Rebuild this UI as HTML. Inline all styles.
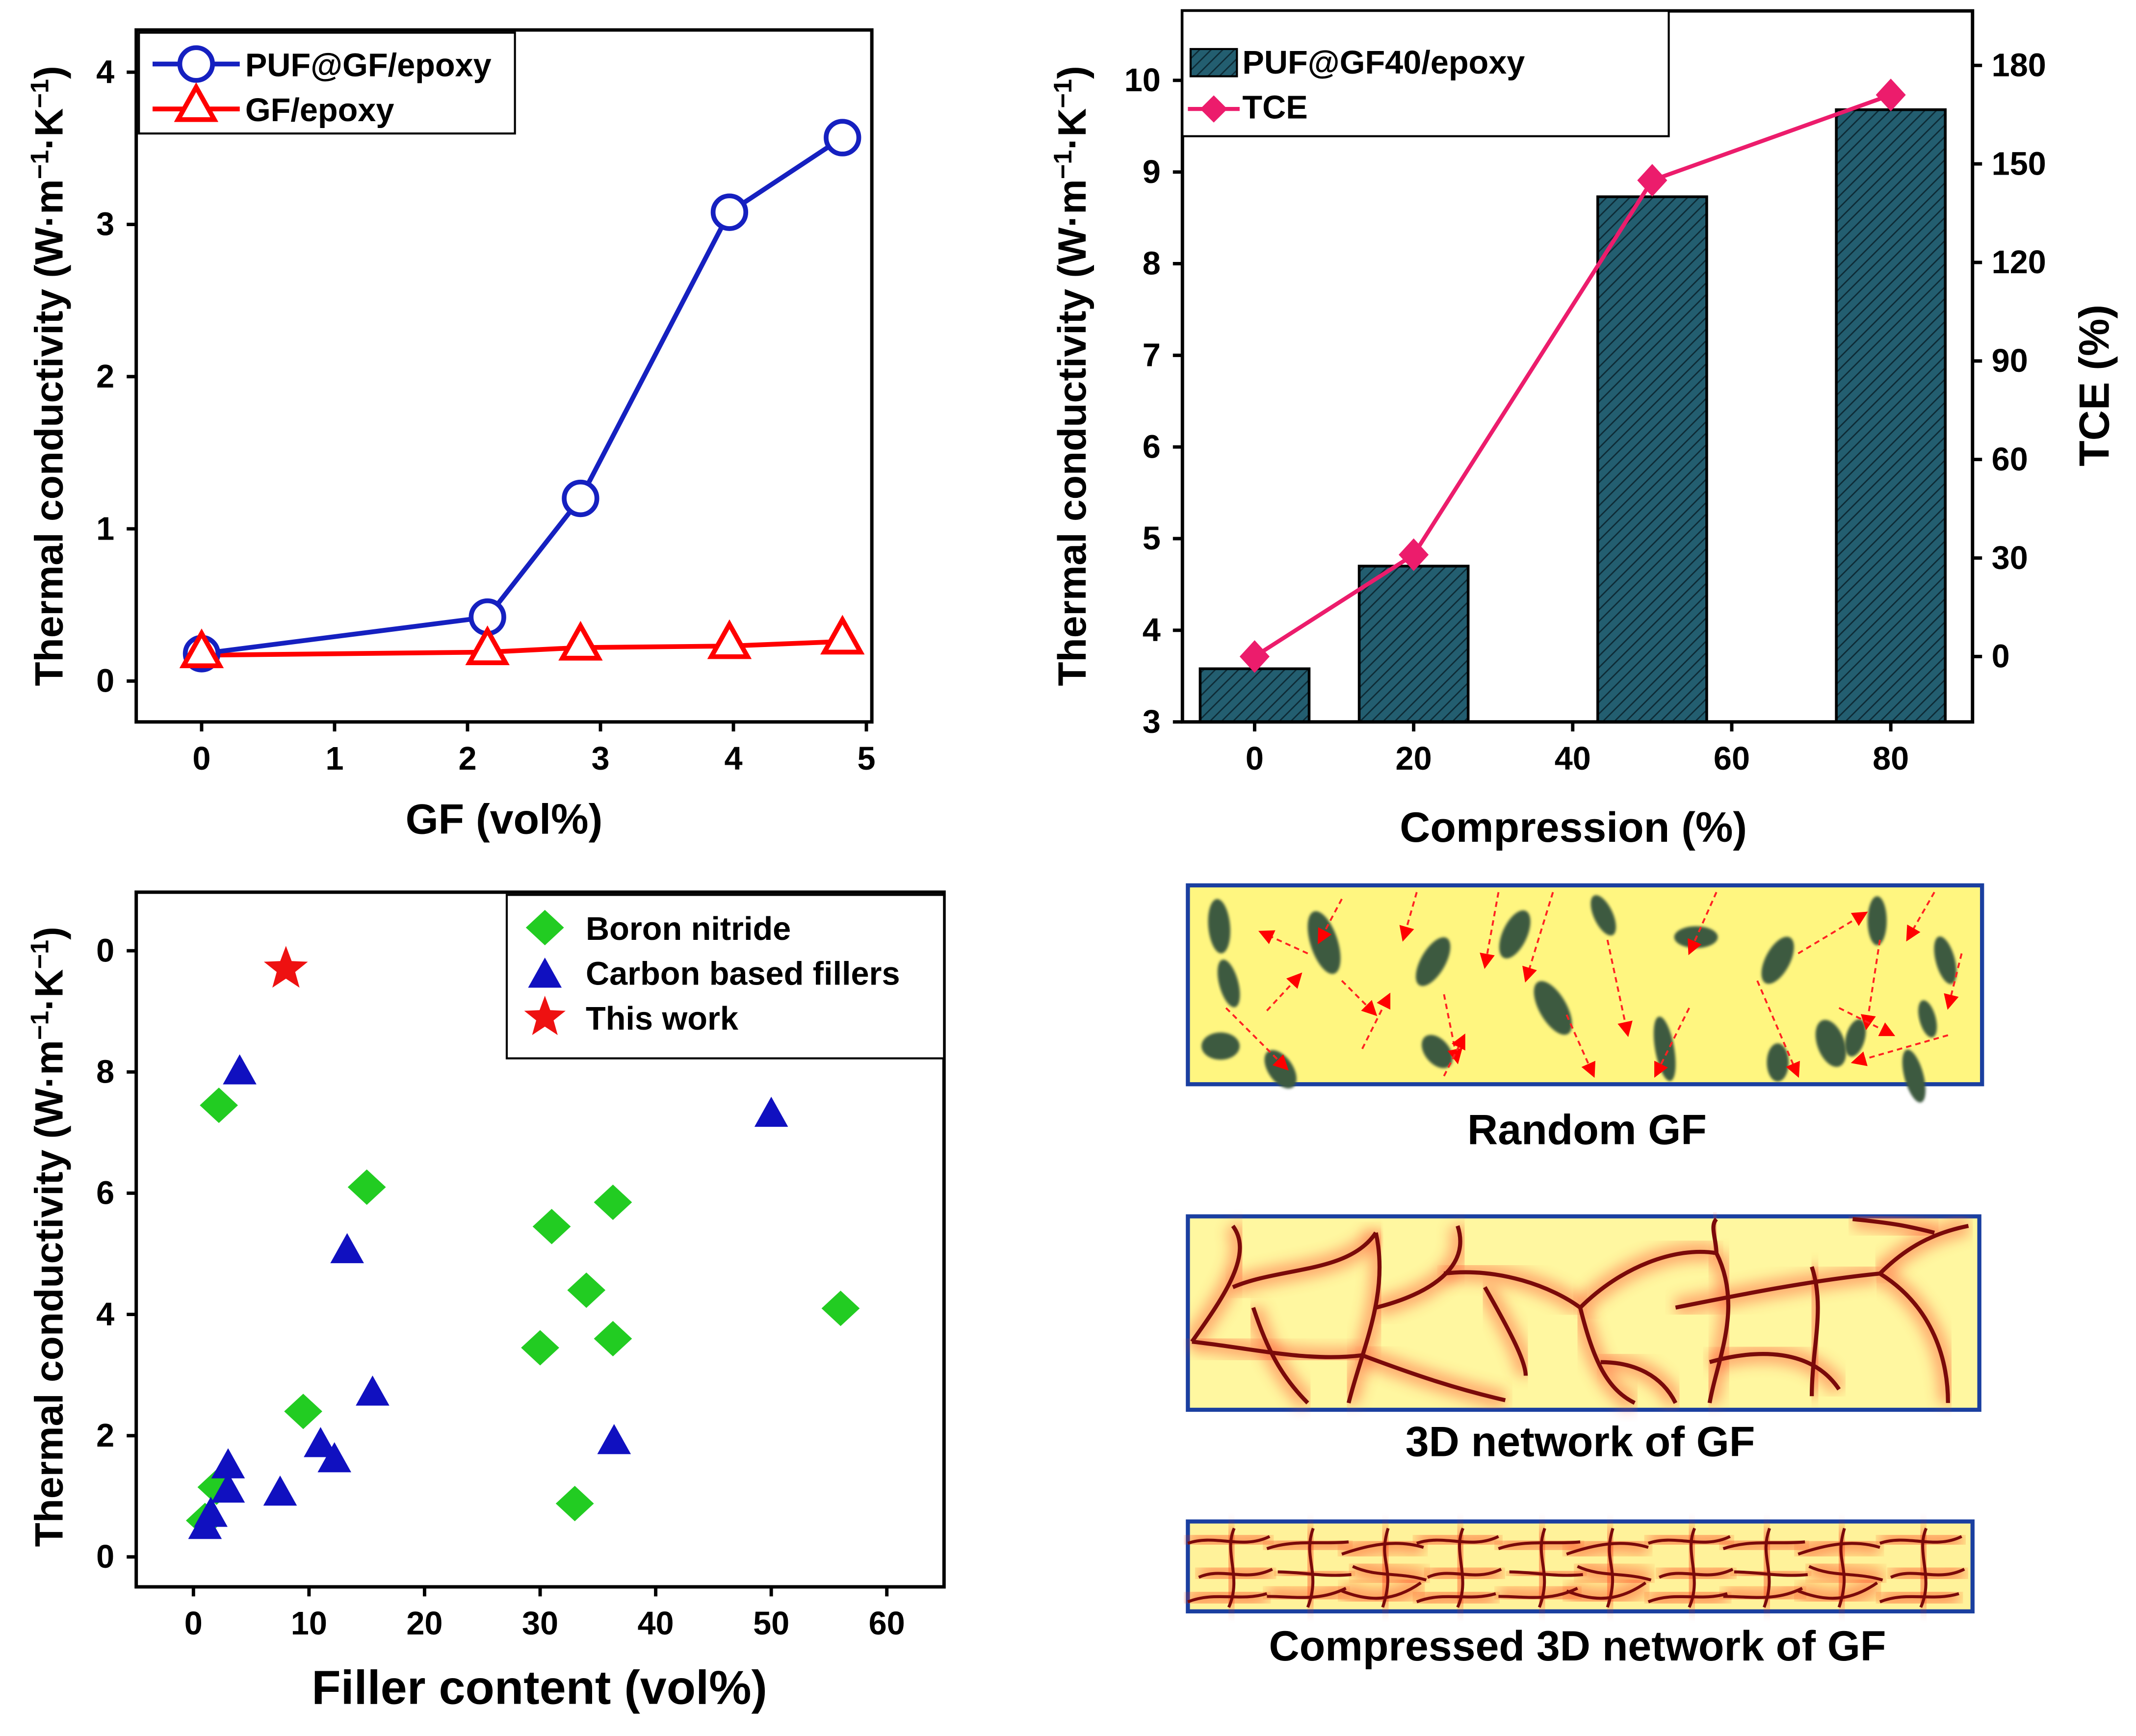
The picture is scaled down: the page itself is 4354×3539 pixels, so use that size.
<!DOCTYPE html>
<html><head><meta charset="utf-8"><style>
html,body{margin:0;padding:0;background:#fff;}
svg{display:block;font-family:"Liberation Sans",Arial,sans-serif;font-weight:bold;}
</style></head><body>
<svg id="fig" width="4354" height="3539" viewBox="0 0 1568 1274.5" xmlns="http://www.w3.org/2000/svg">
<defs>
<pattern id="hatch" width="6" height="6" patternUnits="userSpaceOnUse" patternTransform="rotate(45)">
<rect width="6" height="6" fill="#235e70"/><line x1="0" y1="0" x2="0" y2="6" stroke="#0d2a35" stroke-width="2"/>
</pattern>
<filter id="glow" x="-5%" y="-20%" width="110%" height="140%"><feGaussianBlur stdDeviation="5"/></filter>
<filter id="blur1"><feGaussianBlur stdDeviation="1"/></filter>
<marker id="arr" markerWidth="8" markerHeight="8" refX="7" refY="4" orient="auto"><path d="M0,0 L8,4 L0,8 z" fill="#f00"/></marker>
</defs>
<g id="pa"></g>
<g id="pb"></g>
<g id="pc"></g>
<g id="pd"></g>
</svg>
<script>
// ---- Panel A data
const aX = [0, 2.15, 2.85, 3.97, 4.82];
const aPUF = [0.18, 0.42, 1.2, 3.08, 3.57];
const aGF = [0.17, 0.19, 0.22, 0.23, 0.26];
const aXTicks = [0,1,2,3,4,5];
const aYTicks = [0,1,2,3,4];
// ---- Panel B data
const bComp = [0, 20, 50, 80];
const bTC = [3.58, 4.7, 8.73, 9.68];
const bTCE = [0, 31, 145, 171];
const bXTicks = [0,20,40,60,80];
const bYTicks = [3,4,5,6,7,8,9,10];
const bY2Ticks = [0,30,60,90,120,150,180];
// ---- Panel C data
const cBNx = [1, 2, 2.2, 9.5, 15, 30, 31, 33, 34, 36.3, 36.3, 56];
const cBNy = [0.6, 1.15, 7.45, 2.4, 6.1, 3.45, 5.45, 0.88, 4.4, 3.6, 5.85, 4.1];
const cCx = [1, 1.5, 3, 3, 4, 7.5, 11, 12.2, 13.3, 15.5, 36.4, 50];
const cCy = [0.5, 0.7, 1.5, 1.1, 8.0, 1.05, 1.85, 1.6, 5.05, 2.7, 1.9, 7.3];
const cStarX = [8];
const cStarY = [9.7];
const cXTicks = [0,10,20,30,40,50,60];
const cYTicks = [0,2,4,6,8,10];
const cYLabels = ["0","2","4","6","8","0"];

const NS="http://www.w3.org/2000/svg";
function mk(parent,tag,attrs,name,text){
  const e=document.createElementNS(NS,tag);
  for(const k in attrs)e.setAttribute(k,attrs[k]);
  
  
  if(text!==undefined)e.textContent=text;
  parent.appendChild(e);return e;
}
function lin(d0,d1,r0,r1){return v=>r0+(v-d0)*(r1-r0)/(d1-d0);}
function box(g,x0,y0,x1,y1,name){mk(g,'rect',{x:x0,y:y0,width:x1-x0,height:y1-y0,fill:'none',stroke:'#000','stroke-width':2.5},name);}
function xticks(g,ticks,sx,yb,labels,fs,name){
  ticks.forEach((t,i)=>{
    mk(g,'line',{x1:sx(t),x2:sx(t),y1:yb,y2:yb+7,stroke:'#000','stroke-width':2.5},name+'-tick');
    mk(g,'text',{x:sx(t),y:yb+35,'font-size':fs,'text-anchor':'middle'},name+'-label',labels?labels[i]:t);
  });
}
function yticks(g,ticks,sy,xl,labels,fs,name,right){
  ticks.forEach((t,i)=>{
    mk(g,'line',{x1:xl,x2:right?xl+7:xl-7,y1:sy(t),y2:sy(t),stroke:'#000','stroke-width':2.5},name+'-tick');
    mk(g,'text',{x:right?xl+14:xl-16,y:sy(t)+8,'font-size':fs,'text-anchor':right?'start':'end'},name+'-label',labels?labels[i]:t);
  });
}
function vlabel(g,x,y,txt,fs,name){
  const t=mk(g,'text',{x:0,y:0,'font-size':fs,'text-anchor':'middle',transform:`translate(${x},${y}) rotate(-90)`},name);
  t.innerHTML=txt;return t;
}
const TCL='Thermal conductivity (W·m<tspan baseline-shift="super" font-size="0.65em">−1</tspan>·K<tspan baseline-shift="super" font-size="0.65em">−1</tspan>)';
function tri(x,y,s){return `M${x},${y-s} L${x+s*0.95},${y+s*0.7} L${x-s*0.95},${y+s*0.7} Z`;}
function star(x,y,r){let p='';for(let i=0;i<10;i++){const a=-Math.PI/2+i*Math.PI/5;const rr=i%2?r*0.42:r;p+=(i?'L':'M')+(x+rr*Math.cos(a)).toFixed(1)+','+(y+rr*Math.sin(a)).toFixed(1);}return p+'Z';}

// ===== Panel A
(function(){
const g=document.getElementById('pa');
const sx=lin(0,5,148,636), sy=lin(0,4,500,53);
box(g,100,22,640,530,'panel-a-axes-frame');
xticks(g,aXTicks,sx,530,null,24,'a-x-tick');
yticks(g,aYTicks,sy,100,null,24,'a-y-tick');
mk(g,'text',{x:370,y:612,'font-size':31,'text-anchor':'middle'},'a-x-axis-title','GF (vol%)');
vlabel(g,46,276,TCL,29,'a-y-axis-title');
mk(g,'polyline',{points:aX.map((x,i)=>sx(x)+','+sy(aGF[i])).join(' '),fill:'none',stroke:'#f00','stroke-width':3.5},'gf-epoxy-line');
mk(g,'polyline',{points:aX.map((x,i)=>sx(x)+','+sy(aPUF[i])).join(' '),fill:'none',stroke:'#1520c0','stroke-width':3.5},'puf-gf-epoxy-line');
aX.forEach((x,i)=>{
  mk(g,'circle',{cx:sx(x),cy:sy(aPUF[i]),r:12,fill:'#fff',stroke:'#1520c0','stroke-width':3.5},'puf-point');
  mk(g,'path',{d:tri(sx(x),sy(aGF[i])-2,14),fill:'#fff',stroke:'#f00','stroke-width':3.5},'gf-point');
});
mk(g,'rect',{x:102,y:24,width:276,height:74,fill:'#fff',stroke:'#000','stroke-width':1.5},'a-legend-box');
mk(g,'line',{x1:112,x2:176,y1:47,y2:47,stroke:'#1520c0','stroke-width':3.5},'legend-puf-line');
mk(g,'circle',{cx:144,cy:47,r:12,fill:'#fff',stroke:'#1520c0','stroke-width':3.5},'legend-puf-marker');
mk(g,'text',{x:180,y:56,'font-size':24},'legend-puf-label','PUF@GF/epoxy');
mk(g,'line',{x1:112,x2:176,y1:80,y2:80,stroke:'#f00','stroke-width':3.5},'legend-gf-line');
mk(g,'path',{d:tri(144,78,14),fill:'#fff',stroke:'#f00','stroke-width':3.5},'legend-gf-marker');
mk(g,'text',{x:180,y:89,'font-size':24},'legend-gf-label','GF/epoxy');
})();

// ===== Panel B
(function(){
const g=document.getElementById('pb');
const sx=lin(0,80,921,1388), sy=lin(3,10,530,59), sy2=lin(0,180,482,48);
bComp.forEach((c,i)=>{
  mk(g,'rect',{x:sx(c)-40,y:sy(bTC[i]),width:80,height:530-sy(bTC[i]),fill:'url(#hatch)',stroke:'#000','stroke-width':2},'bar-compression-'+c);
});
box(g,868,8,1448,530,'panel-b-axes-frame');
xticks(g,bXTicks,sx,530,null,24,'b-x-tick');
yticks(g,bYTicks,sy,868,null,24,'b-y-tick');
yticks(g,bY2Ticks,sy2,1448,null,24,'b-y2-tick',true);
mk(g,'text',{x:1155,y:618,'font-size':31,'text-anchor':'middle'},'b-x-axis-title','Compression (%)');
vlabel(g,797,276,TCL,29,'b-y-axis-title');
vlabel(g,1548,283,'TCE (%)',31,'b-y2-axis-title');
mk(g,'polyline',{points:bComp.map((c,i)=>sx(c)+','+sy2(bTCE[i])).join(' '),fill:'none',stroke:'#ec1c6c','stroke-width':3},'tce-line');
bComp.forEach((c,i)=>{const x=sx(c),y=sy2(bTCE[i]);
  mk(g,'path',{d:`M${x},${y-12}L${x+11},${y}L${x},${y+12}L${x-11},${y}Z`,fill:'#ec1c6c'},'tce-point');});
mk(g,'rect',{x:868,y:8,width:357,height:92,fill:'#fff',stroke:'#000','stroke-width':1.5},'b-legend-box');
mk(g,'rect',{x:874,y:36,width:34,height:20,fill:'url(#hatch)',stroke:'#000','stroke-width':1.5},'legend-bar-swatch');
mk(g,'text',{x:912,y:54,'font-size':24},'legend-bar-label','PUF@GF40/epoxy');
mk(g,'line',{x1:872,x2:910,y1:80,y2:80,stroke:'#ec1c6c','stroke-width':3},'legend-tce-line');
mk(g,'path',{d:'M891,70L901,80L891,90L881,80Z',fill:'#ec1c6c'},'legend-tce-marker');
mk(g,'text',{x:912,y:87,'font-size':24},'legend-tce-label','TCE');
})();

// ===== Panel C
(function(){
const g=document.getElementById('pc');
const sx=lin(0,60,142,651), sy=lin(0,10,1143,698);
box(g,100,655,693,1165,'panel-c-axes-frame');
xticks(g,cXTicks,sx,1165,null,24,'c-x-tick');
yticks(g,cYTicks,sy,100,cYLabels,24,'c-y-tick');
mk(g,'text',{x:396,y:1251,'font-size':35,'text-anchor':'middle'},'c-x-axis-title','Filler content (vol%)');
vlabel(g,46,908,TCL,29,'c-y-axis-title');
cBNx.forEach((x,i)=>{const X=sx(x),Y=sy(cBNy[i]);
  mk(g,'path',{d:`M${X},${Y-13}L${X+14},${Y}L${X},${Y+13}L${X-14},${Y}Z`,fill:'#22cc22'},'boron-nitride-point');});
cCx.forEach((x,i)=>{mk(g,'path',{d:tri(sx(x),sy(cCy[i]),13),fill:'#1010c0'},'carbon-filler-point');});
cStarX.forEach((x,i)=>{mk(g,'path',{d:star(sx(x),sy(cStarY[i]),17),fill:'#ee1111'},'this-work-point');});
mk(g,'rect',{x:372,y:657,width:321,height:120,fill:'#fff',stroke:'#000','stroke-width':1.5},'c-legend-box');
mk(g,'path',{d:'M400,668L414,681L400,694L386,681Z',fill:'#22cc22'},'legend-bn-marker');
mk(g,'text',{x:430,y:690,'font-size':24},'legend-bn-label','Boron nitride');
mk(g,'path',{d:tri(400,716,13),fill:'#1010c0'},'legend-carbon-marker');
mk(g,'text',{x:430,y:723,'font-size':24},'legend-carbon-label','Carbon based fillers');
mk(g,'path',{d:star(400,747,16),fill:'#ee1111'},'legend-star-marker');
mk(g,'text',{x:430,y:756,'font-size':24},'legend-thiswork-label','This work');
})();

// ===== Panel D schematic
(function(){
const g=document.getElementById('pd');
mk(g,'rect',{x:872,y:650,width:583,height:146,fill:'#fff680',stroke:'#1a3fa0','stroke-width':3},'random-gf-box');
const fl=[[895,680,8,20,-5],[902,722,7,18,-15],[896,768,14,10,0],[940,785,9,16,-35],[972,692,10,24,-18],[1052,706,9,20,30],[1055,772,9,14,-40],[1112,686,9,19,25],[1140,740,10,22,-30],[1177,672,7,16,-25],[1222,770,7,24,-10],[1245,688,16,8,0],[1305,705,9,19,28],[1344,766,10,18,-20],[1378,676,7,18,0],[1405,790,7,20,-15],[1428,705,7,18,-15],[1415,748,6,14,-15],[1362,762,7,14,15],[1305,780,8,14,0]];
fl.forEach(f=>mk(g,'ellipse',{cx:f[0],cy:f[1],rx:f[2],ry:f[3],transform:`rotate(${f[4]} ${f[0]} ${f[1]})`,fill:'#3e5a40',filter:'url(#blur1)'},'graphite-flake'));
const ar=[[960,700,925,684],[930,742,955,715],[985,660,968,692],[1040,655,1030,690],[985,720,1010,745],[900,740,945,785],[1060,730,1070,780],[1100,655,1090,710],[1140,655,1120,720],[1180,690,1195,760],[1240,740,1215,790],[1260,655,1240,700],[1320,700,1370,670],[1420,655,1400,690],[1290,720,1320,790],[1380,690,1370,755],[1440,700,1430,740],[1350,740,1390,760],[1430,760,1360,780],[1150,745,1170,790],[1060,790,1075,760],[1000,770,1020,730]];
ar.forEach(a=>mk(g,'line',{x1:a[0],y1:a[1],x2:a[2],y2:a[3],stroke:'#f22','stroke-width':1.4,'stroke-dasharray':'4,3','marker-end':'url(#arr)'},'heat-path-arrow'));
mk(g,'text',{x:1165,y:840,'font-size':31,'text-anchor':'middle'},'random-gf-caption','Random GF');
mk(g,'rect',{x:872,y:893,width:581,height:142,fill:'#fff7a0',stroke:'#1a3fa0','stroke-width':3},'network-box');
const net=['M875,985 C900,950 920,920 905,900','M905,945 C940,930 990,935 1010,905','M1010,905 C1020,950 1000,990 990,1030','M920,960 C930,990 940,1010 960,1030','M875,985 C920,990 960,1000 1000,995','M1000,995 C1040,1010 1070,1020 1105,1028','M1010,960 C1050,950 1080,930 1070,900','M1060,935 C1100,930 1140,945 1160,960','M1090,945 C1110,980 1120,1000 1120,1010','M1160,960 C1190,930 1230,915 1260,920','M1160,960 C1170,1000 1180,1020 1200,1030','M1175,1000 C1200,1000 1220,1010 1230,1030','M1260,920 C1280,960 1260,1000 1255,1030','M1255,1000 C1290,990 1330,990 1350,1020','M1230,960 C1280,950 1330,940 1380,935','M1380,935 C1420,960 1430,1000 1430,1030','M1330,930 C1340,960 1330,990 1330,1025','M1380,935 C1400,915 1420,905 1445,900','M1420,905 C1400,900 1390,898 1360,895','M1260,920 C1260,910 1255,900 1260,895'];
net.forEach(d=>mk(g,'path',{d:d,fill:'none',stroke:'#ff5030','stroke-width':14,opacity:0.45,filter:'url(#glow)'},'network-glow'));
net.forEach(d=>mk(g,'path',{d:d,fill:'none',stroke:'#7a0a0a','stroke-width':3},'gf-network-strand'));
mk(g,'text',{x:1160,y:1069,'font-size':31,'text-anchor':'middle'},'network-caption','3D network of GF');
mk(g,'rect',{x:872,y:1117,width:576,height:66,fill:'#fff29a',stroke:'#1a3fa0','stroke-width':3},'compressed-box');
const cn=[];
const cx0=[872,930,985,1040,1100,1150,1210,1265,1320,1380];
cx0.forEach((x,i)=>{const o=(i%3)*4;
  cn.push(`M${x},${1133+o} C${x+20},${1126+o} ${x+40},${1138-o} ${x+60},${1128+o}`);
  cn.push(`M${x+8},${1158-o} C${x+25},${1150+o} ${x+42},${1162-o} ${x+62},${1152+o}`);
  cn.push(`M${x+34},${1122} C${x+26},${1140+o} ${x+40},${1158-o} ${x+30},1180`);
  cn.push(`M${x},${1176-o} C${x+20},${1168+o} ${x+38},${1176} ${x+58},${1170-o}`);
});
cn.forEach(d=>mk(g,'path',{d:d,fill:'none',stroke:'#ff3010','stroke-width':14,opacity:0.45,filter:'url(#glow)'},'compressed-glow'));
cn.forEach(d=>mk(g,'path',{d:d,fill:'none',stroke:'#7a0a0a','stroke-width':2.2},'compressed-strand'));
mk(g,'text',{x:1158,y:1219,'font-size':31,'text-anchor':'middle'},'compressed-caption','Compressed 3D network of GF');
})();
</script>
</body></html>
